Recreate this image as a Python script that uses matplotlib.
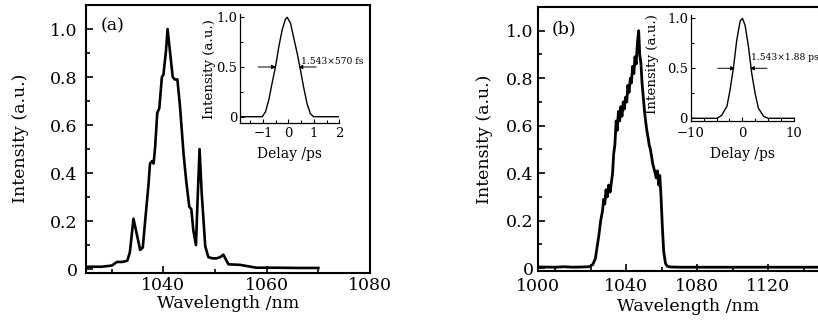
import matplotlib
matplotlib.use("Agg")
import matplotlib.pyplot as plt
from matplotlib.ticker import MultipleLocator

plt.rcParams['font.family'] = ['DejaVu Serif']
plt.rcParams['mathtext.fontset'] = 'dejavuserif'

# ---- panel (a): spectrum ----
wl_a = [1025, 1028, 1030, 1031, 1032, 1033, 1033.5, 1034.2, 1034.8, 1035.5,
        1036, 1036.5, 1037.1, 1037.4, 1037.8, 1038.1, 1038.4, 1038.8, 1039.2, 1039.7,
        1040, 1040.5, 1040.8, 1041.3, 1041.8, 1042.2, 1042.7, 1043.2, 1043.9, 1044.4,
        1045, 1045.4, 1045.8, 1046.3, 1046.6, 1047.0, 1047.4, 1048.1, 1048.7, 1049.5,
        1050.3, 1051, 1051.6, 1052.6, 1054.8, 1058, 1062, 1066, 1070]
int_a = [0.01, 0.01, 0.015, 0.03, 0.03, 0.035, 0.07, 0.21, 0.15, 0.08,
         0.09, 0.21, 0.35, 0.44, 0.45, 0.44, 0.51, 0.65, 0.67, 0.80,
         0.81, 0.91, 1.0, 0.90, 0.80, 0.79, 0.79, 0.68, 0.48, 0.37,
         0.26, 0.25, 0.16, 0.10, 0.28, 0.50, 0.32, 0.095, 0.05, 0.045,
         0.045, 0.05, 0.06, 0.02, 0.018, 0.006, 0.006, 0.005, 0.005]

# ---- panel (a): autocorrelation inset ----
delay_a = [-1.9, -1.5, -1.03, -0.9, -0.77, -0.64, -0.51, -0.38, -0.25, -0.12, -0.05,
           0.08, 0.21, 0.34, 0.47, 0.6, 0.73, 0.86, 0.99, 1.5, 2.0]
ac_a = [0.0, 0.0, 0.0, 0.05, 0.17, 0.34, 0.50, 0.70, 0.87, 0.98, 1.0,
        0.94, 0.79, 0.64, 0.47, 0.29, 0.13, 0.03, 0.0, 0.0, 0.0]
fwhm_a = 1.543 * 0.570   # ps
label_a = "1.543×570 fs"

# ---- panel (b): spectrum ----
wl_b = [990, 1000, 1005, 1010, 1015, 1019, 1021, 1022.5, 1023.5, 1024.5,
        1025.5, 1026.5, 1027.2, 1027.8, 1028.5, 1029.2, 1030, 1030.8, 1031.5, 1032.2,
        1032.8, 1033.5, 1034.2, 1034.8, 1035.5, 1036.2, 1036.8, 1037.5, 1038.2, 1038.8,
        1039.5, 1040.2, 1040.8, 1041.5, 1042.2, 1042.8, 1043.5, 1044.2, 1044.8, 1045.5,
        1046.2, 1046.9, 1047.5, 1048.2, 1048.8, 1049.5, 1050.2, 1050.8, 1051.5, 1052.2,
        1052.8, 1053.5, 1054.2, 1054.8, 1055.5, 1056.2, 1056.8, 1057.5, 1058.2, 1058.8,
        1059.5, 1060.2, 1061, 1062, 1063, 1065, 1070, 1080, 1100, 1120, 1140, 1160]
int_b = [0.005, 0.004, 0.006, 0.004, 0.005, 0.006, 0.015, 0.04, 0.09, 0.14,
         0.20, 0.24, 0.29, 0.27, 0.33, 0.30, 0.35, 0.32, 0.36, 0.40,
         0.48, 0.52, 0.62, 0.58, 0.66, 0.62, 0.68, 0.64, 0.70, 0.67,
         0.72, 0.70, 0.77, 0.74, 0.80, 0.78, 0.85, 0.82, 0.89, 0.86,
         0.95, 1.0, 0.90, 0.86, 0.78, 0.72, 0.66, 0.62, 0.58, 0.55,
         0.52, 0.50, 0.47, 0.44, 0.42, 0.40, 0.38, 0.41, 0.35, 0.39,
         0.30, 0.18, 0.07, 0.02, 0.008, 0.005, 0.004, 0.004, 0.004, 0.004, 0.004, 0.004]

# ---- panel (b): autocorrelation inset ----
delay_b = [-10, -6, -4.9, -4.0, -3.0, -2.4, -1.7, -1.1, -0.45, 0.0,
           0.52, 1.16, 1.8, 2.45, 3.1, 4.1, 5.0, 7, 10]
ac_b = [0.0, 0.0, 0.0, 0.03, 0.12, 0.28, 0.52, 0.78, 0.97, 1.0,
        0.93, 0.72, 0.45, 0.25, 0.10, 0.02, 0.0, 0.0, 0.0]
fwhm_b = 1.543 * 1.88    # ps
label_b = "1.543×1.88 ps"

ticks_a = [1040, 1060, 1080]
ticks_b = [990, 1040, 1080, 1120]
ticklabels_b = ["1000", "1040", "1080", "1120"]
yticks_main = [0, 0.2, 0.4, 0.6, 0.8, 1.0]
yticklabels_main = ["0", "0.2", "0.4", "0.6", "0.8", "1.0"]


def style_main(ax):
    for s in ax.spines.values():
        s.set_linewidth(1.5)
    ax.tick_params(which='both', direction='in', top=False, right=False,
                   labelsize=12.5, width=1.2)
    ax.tick_params(which='major', length=5)
    ax.tick_params(which='minor', length=3)
    ax.set_yticks(yticks_main)
    ax.set_yticklabels(yticklabels_main)
    ax.yaxis.set_minor_locator(MultipleLocator(0.1))
    ax.set_ylim(-0.014, 1.1)


def style_inset(ax, xmaj, xmin, xpad):
    ax.spines['top'].set_visible(False)
    ax.spines['right'].set_visible(False)
    for s in ax.spines.values():
        s.set_linewidth(0.9)
    ax.tick_params(which='both', direction='in', labelsize=9.5, width=0.8, pad=2)
    ax.tick_params(axis='x', pad=xpad)
    ax.tick_params(which='major', length=3)
    ax.tick_params(which='minor', length=2)
    ax.set_yticks([0, 0.5, 1.0])
    ax.set_yticklabels(["0", "0.5", "1.0"])
    ax.yaxis.set_minor_locator(MultipleLocator(0.25))
    ax.xaxis.set_major_locator(MultipleLocator(xmaj))
    ax.xaxis.set_minor_locator(MultipleLocator(xmin))
    ax.set_xlabel("Delay /ps", fontsize=10, labelpad=5)
    ax.set_ylabel("Intensity (a.u.)", fontsize=9.6, labelpad=0.5)


def fwhm_marks(ax, centre, fwhm, tail, label, tx, ty):
    half = fwhm / 2
    kw = dict(arrowstyle='-|>', lw=0.7, color='black', mutation_scale=6,
              shrinkA=0, shrinkB=0)
    ax.annotate("", xy=(centre - half, 0.5), xytext=(centre - half - tail, 0.5),
                arrowprops=kw, annotation_clip=False)
    ax.annotate("", xy=(centre + half, 0.5), xytext=(centre + half + tail, 0.5),
                arrowprops=kw, annotation_clip=False)
    ax.text(tx, ty, label, fontsize=6.6, ha='left', va='center', clip_on=False)


fig = plt.figure(figsize=(8.18, 3.2), dpi=100)

# panel (a)
ax1 = fig.add_axes([0.1051, 0.1484, 0.3472, 0.8359])
ax1.plot(wl_a, int_a, color='black', lw=1.9)
ax1.set_xlim(1025, 1080)
ax1.set_xticks(ticks_a)
ax1.xaxis.set_minor_locator(MultipleLocator(10))
style_main(ax1)
ax1.tick_params(axis='x', pad=3)
ax1.tick_params(axis='y', pad=6)
ax1.set_xlabel("Wavelength /nm", fontsize=12.5, labelpad=1)
ax1.set_ylabel("Intensity (a.u.)", fontsize=12.5, labelpad=15)
ax1.text(0.05, 0.955, "(a)", transform=ax1.transAxes, fontsize=12.5, va='top', ha='left')

ins1 = fig.add_axes([0.2934, 0.6147, 0.1216, 0.3416])
ins1.plot(delay_a, ac_a, color='black', lw=1.0)
ins1.set_xlim(-1.9, 2.0)
ins1.set_ylim(-0.066, 1.033)
style_inset(ins1, 1, 0.5, 2.5)
fwhm_marks(ins1, -0.05, fwhm_a, 0.7, label_a, 0.48, 0.56)

# panel (b)
ax2 = fig.add_axes([0.6573, 0.1516, 0.3689, 0.8266])
ax2.plot(wl_b, int_b, color='black', lw=2.0)
ax2.set_xlim(990, 1160)
ax2.set_xticks(ticks_b)
ax2.set_xticklabels(ticklabels_b)
ax2.xaxis.set_minor_locator(MultipleLocator(20))
style_main(ax2)
ax2.tick_params(axis='x', pad=4.5)
ax2.tick_params(axis='y', pad=3)
ax2.set_xlabel("Wavelength /nm", fontsize=12.5, labelpad=2)
ax2.set_ylabel("Intensity (a.u.)", fontsize=12.5, labelpad=9)
ax2.text(0.047, 0.95, "(b)", transform=ax2.transAxes, fontsize=12.5, va='top', ha='left')

ins2 = fig.add_axes([0.8444, 0.6219, 0.1264, 0.3313])
ins2.plot(delay_b, ac_b, color='black', lw=1.0)
ins2.set_xlim(-10, 10)
ins2.set_ylim(-0.027, 1.033)
style_inset(ins2, 10, 2.5, 4.5)
ins2.yaxis.set_label_coords(-0.31, 0.54)
fwhm_marks(ins2, 0.0, fwhm_b, 3.3, label_b, 1.6, 0.61)

fig.savefig("out.png", dpi=100)
